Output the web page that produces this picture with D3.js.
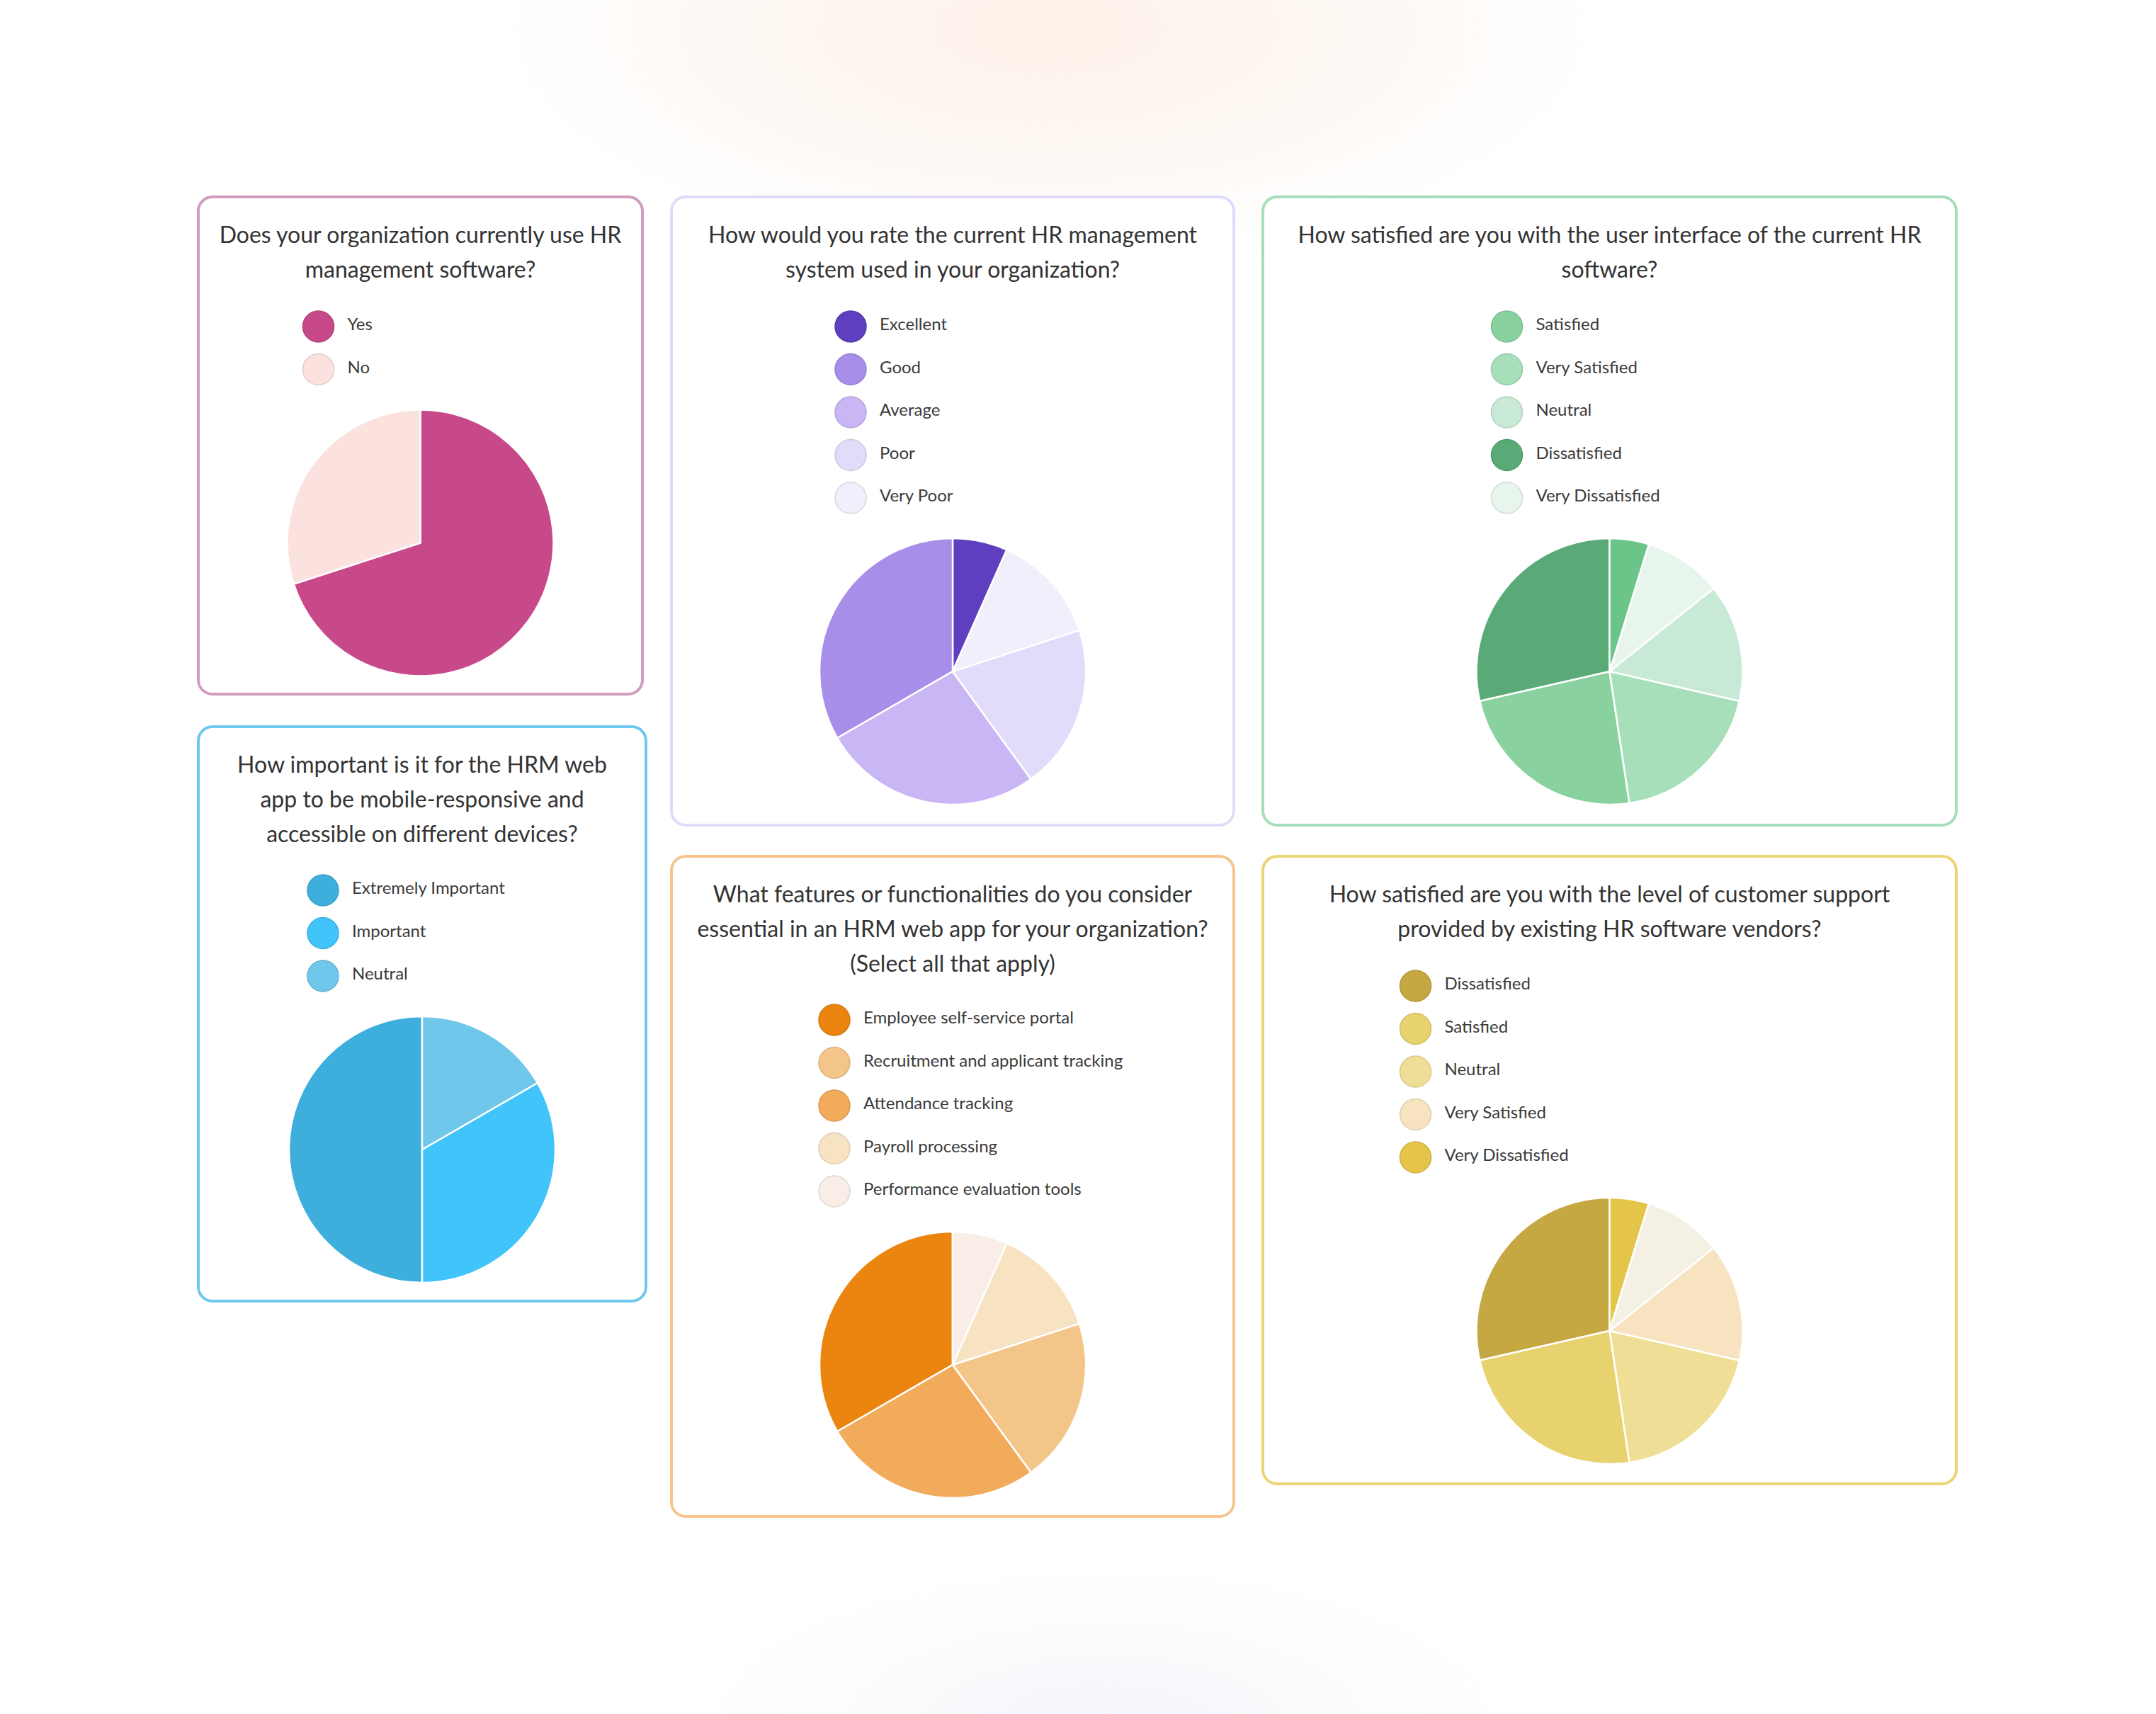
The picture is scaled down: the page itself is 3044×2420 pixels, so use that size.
<!DOCTYPE html>
<html>
<head>
<meta charset="utf-8">
<script src="https://cdn.jsdelivr.net/npm/d3@7"></script>
<style>
  html, body { margin: 0; padding: 0; background: #ffffff; }
  svg { display: block; }
</style>
</head>
<body>
<svg id="chart" width="3044" height="2420"></svg>
<script>
// ---------- DATA ----------
const q1Title = ["Does your organization currently use HR", "management software?"];
const q1Categories = ["Yes", "No"];
const q1Values = [70, 30];
const q1Colors = ["#c8498a", "#fce2df"];

const q2Title = ["How would you rate the current HR management", "system used in your organization?"];
const q2Categories = ["Excellent", "Good", "Average", "Poor", "Very Poor"];
const q2Values = [2, 10, 8, 6, 4];
const q2Colors = ["#5e3fc0", "#a78ee9", "#c9b7f5", "#e3dbfa", "#f2effc"];

const q3Title = ["How satisfied are you with the user interface of the current HR", "software?"];
const q3Categories = ["Satisfied", "Very Satisfied", "Neutral", "Dissatisfied", "Very Dissatisfied", "Other"];
const q3Values = [5, 4, 3, 6, 2, 1];
const q3Colors = ["#89d2a0", "#a7dfba", "#c8e9d6", "#5aaa77", "#e8f5ed", "#6bc589"];

const q4Title = ["How important is it for the HRM web", "app to be mobile-responsive and", "accessible on different devices?"];
const q4Categories = ["Extremely Important", "Important", "Neutral"];
const q4Values = [3, 2, 1];
const q4Colors = ["#3eafdc", "#41c4fa", "#6fc7eb"];

const q5Title = ["What features or functionalities do you consider", "essential in an HRM web app for your organization?", "(Select all that apply)"];
const q5Categories = ["Employee self-service portal", "Recruitment and applicant tracking", "Attendance tracking", "Payroll processing", "Performance evaluation tools"];
const q5Values = [10, 6, 8, 4, 2];
const q5Colors = ["#ec8410", "#f4c589", "#f2aa5b", "#f7e3c1", "#f9eee7"];

const q6Title = ["How satisfied are you with the level of customer support", "provided by existing HR software vendors?"];
const q6Categories = ["Dissatisfied", "Satisfied", "Neutral", "Very Satisfied", "Very Dissatisfied", "Other"];
const q6Values = [6, 5, 4, 3, 1, 2];
const q6Colors = ["#c6a842", "#e8d26f", "#efdf96", "#f7e3c0", "#e4c54a", "#f5f0e4"];

// ---------- LAYOUT ----------
const W = 3044, H = 2420;
const panels = [
  { title: q1Title, cats: q1Categories, vals: q1Values, colors: q1Colors, legendN: 2,
    box: [278, 276, 909, 982], border: "#d09cc0", legendDx: -144, sortAsc: false },
  { title: q2Title, cats: q2Categories, vals: q2Values, colors: q2Colors, legendN: 5,
    box: [946, 276, 1744, 1167], border: "#e2dafa", legendDx: -144, sortAsc: true },
  { title: q3Title, cats: q3Categories, vals: q3Values, colors: q3Colors, legendN: 5,
    box: [1781, 276, 2764, 1167], border: "#a6ddba", legendDx: -145, sortAsc: true },
  { title: q4Title, cats: q4Categories, vals: q4Values, colors: q4Colors, legendN: 3,
    box: [278, 1024, 914, 1839], border: "#6ec8ee", legendDx: -140, sortAsc: true },
  { title: q5Title, cats: q5Categories, vals: q5Values, colors: q5Colors, legendN: 5,
    box: [946, 1207, 1744, 2143], border: "#f6c48d", legendDx: -167, sortAsc: true },
  { title: q6Title, cats: q6Categories, vals: q6Values, colors: q6Colors, legendN: 5,
    box: [1781, 1207, 2764, 2097], border: "#ecd474", legendDx: -274, sortAsc: true }
];

const FONT = "Lato, 'Open Sans', sans-serif";
const titleSize = 32, titleFirst = 67, titleStep = 49;
const legendFirst = 185, legendStep = 60.5, legendR = 22, legendTextDx = 41, legendSize = 24;
const pieGap = 245, pieR = 188;

const svg = d3.select("#chart");

// background glows
const defs = svg.append("defs");
const gTop = defs.append("radialGradient").attr("id", "glowTop");
gTop.append("stop").attr("offset", "0%").attr("stop-color", "#fdf1e8").attr("stop-opacity", 1);
gTop.append("stop").attr("offset", "60%").attr("stop-color", "#fdf5ef").attr("stop-opacity", 0.6);
gTop.append("stop").attr("offset", "100%").attr("stop-color", "#ffffff").attr("stop-opacity", 0);
const gBot = defs.append("radialGradient").attr("id", "glowBot");
gBot.append("stop").attr("offset", "0%").attr("stop-color", "#f3f3fa").attr("stop-opacity", 1);
gBot.append("stop").attr("offset", "100%").attr("stop-color", "#ffffff").attr("stop-opacity", 0);

svg.append("rect").attr("width", W).attr("height", H).attr("fill", "#ffffff");
svg.append("ellipse").attr("cx", 1480).attr("cy", 40).attr("rx", 860).attr("ry", 360)
  .attr("fill", "url(#glowTop)");
svg.append("ellipse").attr("cx", 1560).attr("cy", 2440).attr("rx", 700).attr("ry", 280)
  .attr("fill", "url(#glowBot)");

panels.forEach(p => {
  const [x0, y0, x1, y1] = p.box;
  const cx = (x0 + x1) / 2;
  const g = svg.append("g");

  g.append("rect")
    .attr("x", x0 + 2).attr("y", y0 + 2)
    .attr("width", x1 - x0 - 4).attr("height", y1 - y0 - 4)
    .attr("rx", 20).attr("ry", 20)
    .attr("fill", "#ffffff")
    .attr("stroke", p.border).attr("stroke-width", 4);

  // title
  g.selectAll("text.title").data(p.title).join("text")
    .attr("class", "title")
    .attr("x", cx)
    .attr("y", (d, i) => y0 + titleFirst + i * titleStep)
    .attr("text-anchor", "middle")
    .attr("font-family", FONT).attr("font-size", titleSize)
    .attr("fill", "#333333")
    .text(d => d);

  const extra = (p.title.length - 2) * 48;
  const color = d3.scaleOrdinal().domain(p.cats).range(p.colors);

  // legend
  const legendCats = p.cats.slice(0, p.legendN);
  const lx = cx + p.legendDx;
  const ly = y0 + legendFirst + extra;
  const item = g.selectAll("g.leg").data(legendCats).join("g")
    .attr("class", "leg")
    .attr("transform", (d, i) => `translate(${lx},${ly + i * legendStep})`);
  item.append("circle")
    .attr("r", legendR)
    .attr("fill", d => color(d))
    .attr("stroke", d => d3.color(color(d)).darker(0.3))
    .attr("stroke-width", 1.5);
  item.append("text")
    .attr("x", legendTextDx).attr("y", 5)
    .attr("font-family", FONT).attr("font-size", legendSize)
    .attr("fill", "#3a3a3a")
    .text(d => d);

  // pie
  const pcy = ly + (p.legendN - 1) * legendStep + pieGap;
  const data = p.cats.map((c, i) => ({ cat: c, value: p.vals[i] }));
  const pie = d3.pie().value(d => d.value)
    .sort(p.sortAsc ? (a, b) => a.value - b.value : null);
  const arc = d3.arc().innerRadius(0).outerRadius(pieR);
  g.append("g").attr("transform", `translate(${cx},${pcy})`)
    .selectAll("path").data(pie(data)).join("path")
    .attr("d", arc)
    .attr("fill", d => color(d.data.cat))
    .attr("stroke", "#ffffff")
    .attr("stroke-width", 2.5)
    .attr("stroke-linejoin", "round");
});
</script>
</body>
</html>
